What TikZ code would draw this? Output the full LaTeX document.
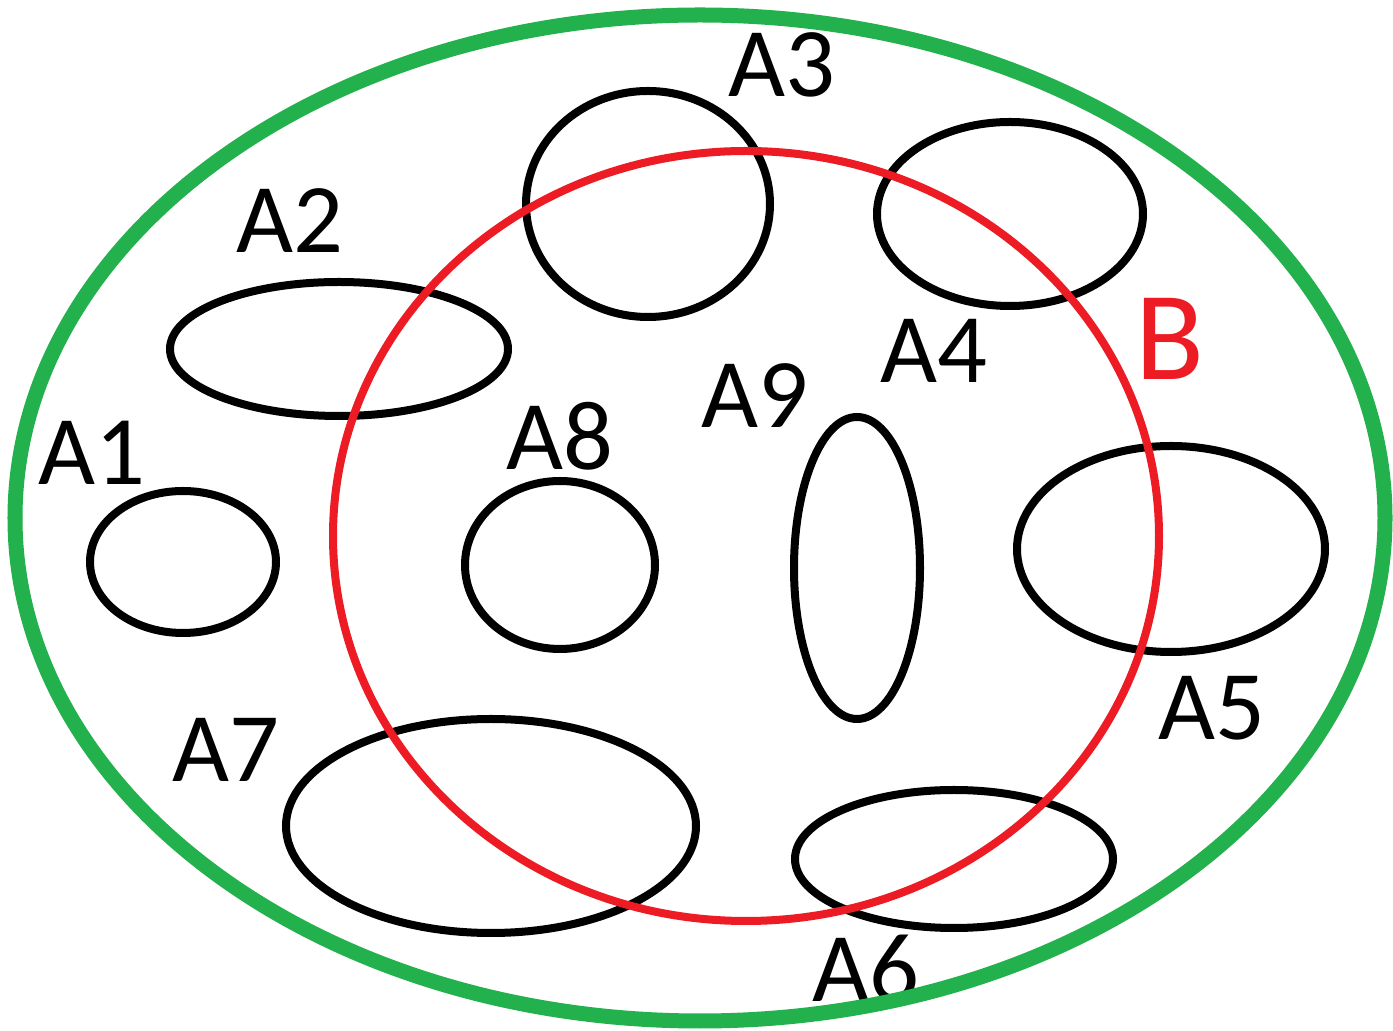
\documentclass[tikz,border=0pt]{standalone}
\usepackage{fontspec}
\setmainfont{Carlito}
\definecolor{paintgreen}{RGB}{34,177,76}
\definecolor{paintred}{RGB}{237,28,36}
\begin{document}
\begin{tikzpicture}[x=0.01cm,y=-0.01cm,
  setline/.style={draw=black,line width=0.8mm},
  lbl/.style={anchor=base,inner sep=0pt,font=\fontsize{28}{28}\selectfont},
  blbl/.style={anchor=base,inner sep=0pt,text=paintred,font=\fontsize{36}{36}\selectfont}]
\useasboundingbox (0,0) rectangle (1393,1031);
\fill[white] (0,0) rectangle (1393,1031);
% labels
\node[lbl] (t1) at (92,485) {A1};
\node[lbl] (t2) at (290,253) {A2};
\node[lbl] (t3) at (782,97) {A3};
\node[lbl] (t4) at (934,383) {A4};
\node[lbl] (t5) at (1212,740) {A5};
\node[lbl] (t6) at (866,1002) {A6};
\node[lbl] (t7) at (226,782) {A7};
\node[lbl] (t8) at (560,470) {A8};
\node[lbl] (t9) at (755,428) {A9};
\node[blbl] (tb) at (1170,380) {B};
% the sets A1..A9
\draw[setline] (183,562) ellipse [x radius=93,y radius=71];
\draw[setline] (339,349) ellipse [x radius=169,y radius=67];
\draw[setline] (648,204) ellipse [x radius=122,y radius=113];
\draw[setline] (1010,214) ellipse [x radius=133,y radius=92];
\draw[setline] (1171,549) ellipse [x radius=154,y radius=103];
\draw[setline] (954,859) ellipse [x radius=159,y radius=69];
\draw[setline] (491,826) ellipse [x radius=205,y radius=107];
\draw[setline] (560,565) ellipse [x radius=95,y radius=84];
\draw[setline] (857,568) ellipse [x radius=63,y radius=151];
% set B
\draw[paintred,line width=0.8mm] (746,536) ellipse [x radius=413,y radius=385];
% universe
\draw[paintgreen,line width=1.5mm] (700,518) ellipse [x radius=685,y radius=503];
\end{tikzpicture}
\end{document}
